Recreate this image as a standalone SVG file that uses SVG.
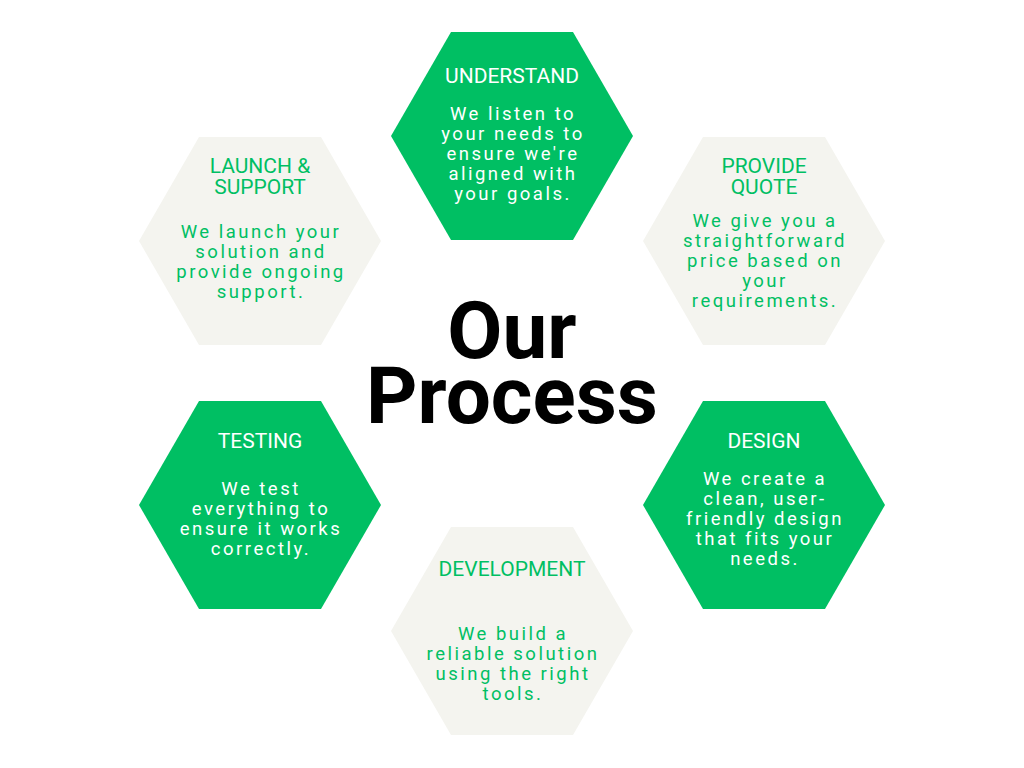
<svg xmlns="http://www.w3.org/2000/svg" width="1024" height="768" viewBox="0 0 1024 768">
<style>
.g{fill:#00BF63}.l{fill:#F4F4EF}
text{font-family:Roboto,"Liberation Sans",sans-serif;text-anchor:middle}
.h{font-size:21px}.b{font-size:18.5px;letter-spacing:2.5px}
.w{fill:#FFFFFF}.c{fill:#00BF63}
.t{font-size:80px;font-weight:bold;fill:#000}
</style>
<defs><polygon id="hx" points="-121,0 -61,-104 61,-104 121,0 61,104 -61,104"/></defs>
<rect width="1024" height="768" fill="#fff"/>
<g id="connectors"/>
<g id="understand"><use href="#hx" x="512" y="136" class="g"/>
<text class="h w" x="512" y="83">UNDERSTAND</text>
<text class="b w" x="513"><tspan x="513" y="120">We listen to</tspan><tspan x="513" y="140">your needs to</tspan><tspan x="513" y="160">ensure we're</tspan><tspan x="513" y="180">aligned with</tspan><tspan x="513" y="200">your goals.</tspan></text></g>
<g id="quote"><use href="#hx" x="764" y="241" class="l"/>
<text class="h c"><tspan x="764" y="173">PROVIDE</tspan><tspan x="764" y="194">QUOTE</tspan></text>
<text class="b c"><tspan x="765" y="227">We give you a</tspan><tspan x="765" y="247">straightforward</tspan><tspan x="765" y="267">price based on</tspan><tspan x="765" y="287">your</tspan><tspan x="765" y="307">requirements.</tspan></text></g>
<g id="design"><use href="#hx" x="764" y="505" class="g"/>
<text class="h w" x="764" y="448">DESIGN</text>
<text class="b w"><tspan x="765" y="485">We create a</tspan><tspan x="765" y="505">clean, user-</tspan><tspan x="765" y="525">friendly design</tspan><tspan x="765" y="545">that fits your</tspan><tspan x="765" y="565">needs.</tspan></text></g>
<g id="development"><use href="#hx" x="512" y="631" class="l"/>
<text class="h c" x="512" y="576">DEVELOPMENT</text>
<text class="b c"><tspan x="513" y="640">We build a</tspan><tspan x="513" y="660">reliable solution</tspan><tspan x="513" y="680">using the right</tspan><tspan x="513" y="700">tools.</tspan></text></g>
<g id="testing"><use href="#hx" x="260" y="505" class="g"/>
<text class="h w" x="260" y="448">TESTING</text>
<text class="b w"><tspan x="261" y="495">We test</tspan><tspan x="261" y="515">everything to</tspan><tspan x="261" y="535">ensure it works</tspan><tspan x="261" y="555">correctly.</tspan></text></g>
<g id="launch"><use href="#hx" x="260" y="241" class="l"/>
<text class="h c"><tspan x="260" y="173">LAUNCH &amp;</tspan><tspan x="260" y="194">SUPPORT</tspan></text>
<text class="b c"><tspan x="261" y="238">We launch your</tspan><tspan x="261" y="258">solution and</tspan><tspan x="261" y="278">provide ongoing</tspan><tspan x="261" y="298">support.</tspan></text></g>
<g id="title"><text class="t" x="512" y="358">Our</text><text class="t" x="512" y="423">Process</text></g>
</svg>
